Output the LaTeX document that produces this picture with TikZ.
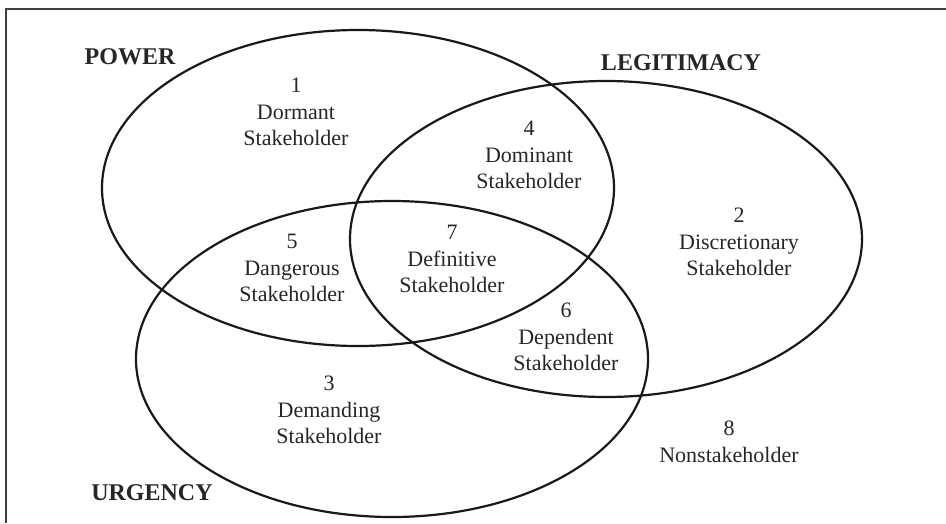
\documentclass[tikz,border=0pt]{standalone}
\usepackage{fontspec}
\setmainfont{Liberation Serif}
\usepackage{tikz}

\begin{document}
\begin{tikzpicture}[x=1pt, y=-1pt,
      attr/.style={line width=2.2pt, draw=black!90},
      frameline/.style={line width=2.4pt, draw=black!75},
      setname/.style={font=\fontsize{24}{28}\selectfont\bfseries, text=black!85},
      region/.style={font=\fontsize{22}{26.5}\selectfont, align=center, text=black!85, inner sep=0pt},
    ]
    \useasboundingbox (0,0) rectangle (946,523);

    % Open frame: left and top sides only
    \draw[frameline] (6,523) -- (6,9) -- (946,9);

    % The three attributes
    \coordinate (powc) at (358,188);
    \coordinate (legc) at (606,239);
    \coordinate (urgc) at (392,359);
    \foreach \c in {powc, legc, urgc}
      \draw[attr] (\c) ellipse [x radius=256pt, y radius=158pt];

    \node[setname] (power) at (130,57) {POWER};
    \node[setname] (legit) at (681,63) {LEGITIMACY};
    \node[setname] (urgency) at (152,493) {URGENCY};

    % Stakeholder classes
    \foreach \n/\x/\y/\num/\kind in {dormant/296/112/1/Dormant,
        dominant/529/155/4/Dominant, discret/739/242/2/Discretionary,
        danger/292/268/5/Dangerous, definit/452/259/7/Definitive,
        depend/566/337/6/Dependent, demand/329/410/3/Demanding}
      \node[region] (\n) at (\x,\y) {\num\\\kind\\Stakeholder};
    \node[region] (nonst) at (729,442) {8\\Nonstakeholder};
  \end{tikzpicture}
\end{document}
